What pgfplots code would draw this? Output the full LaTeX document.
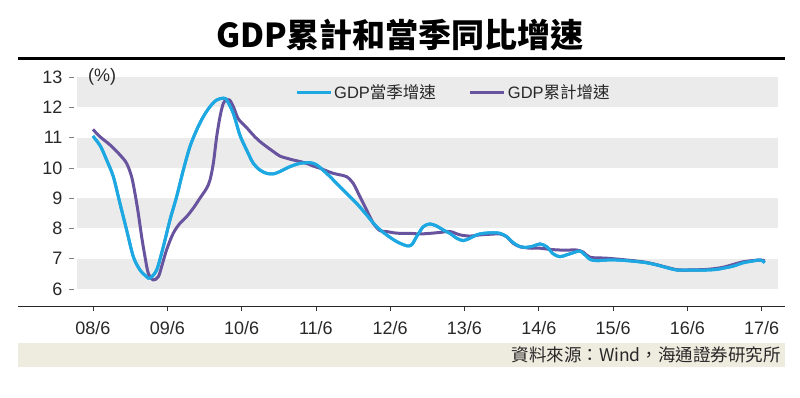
\documentclass[border=0pt]{standalone}
\usepackage{pgfplots}
\pgfplotsset{compat=1.18}
\usepackage{fontspec}
\setmainfont{Liberation Sans}
\newfontfamily\cjk{Noto Sans CJK TC}
\definecolor{qcyan}{RGB}{30,168,226}
\definecolor{qpurple}{RGB}{104,84,158}
\definecolor{band}{RGB}{235,235,235}
\definecolor{beige}{RGB}{238,235,223}
\definecolor{txt}{RGB}{40,40,40}

\pgfplotstableread{
t v
0.000 11.05
0.100 10.72
0.184 10.26
0.274 9.71
0.363 8.83
0.453 7.95
0.543 7.07
0.633 6.63
0.722 6.41
0.767 6.36
0.857 6.63
0.947 7.40
1.036 8.28
1.126 9.05
1.216 9.93
1.305 10.70
1.395 11.25
1.485 11.69
1.575 12.02
1.664 12.24
1.754 12.30
1.800 12.24
1.889 11.80
1.978 11.08
2.068 10.59
2.158 10.15
2.247 9.93
2.337 9.82
2.427 9.80
2.516 9.88
2.650 10.04
2.786 10.15
2.920 10.17
3.010 10.10
3.145 9.82
3.280 9.49
3.414 9.16
3.548 8.83
3.683 8.45
3.817 8.06
3.952 7.79
4.086 7.57
4.221 7.43
4.289 7.46
4.356 7.73
4.446 8.06
4.536 8.15
4.626 8.08
4.715 7.95
4.805 7.84
4.895 7.68
4.984 7.60
5.074 7.68
5.164 7.79
5.254 7.84
5.388 7.86
5.478 7.84
5.568 7.73
5.657 7.53
5.747 7.40
5.837 7.38
5.927 7.42
6.016 7.49
6.106 7.40
6.196 7.16
6.285 7.07
6.375 7.13
6.465 7.20
6.555 7.26
6.622 7.13
6.690 6.98
6.780 6.94
6.914 6.96
7.050 6.96
7.183 6.94
7.317 6.91
7.450 6.87
7.587 6.80
7.720 6.71
7.856 6.63
7.990 6.63
8.125 6.63
8.260 6.63
8.394 6.65
8.484 6.69
8.619 6.76
8.753 6.87
8.888 6.93
8.990 6.96
9.040 6.87
}\quarterly

\pgfplotstableread{
t v
0.000 11.27
0.094 11.03
0.229 10.76
0.363 10.43
0.453 10.15
0.520 9.71
0.565 9.16
0.610 8.50
0.655 7.73
0.700 7.07
0.745 6.52
0.812 6.30
0.880 6.41
0.924 6.74
0.990 7.29
1.080 7.84
1.170 8.17
1.260 8.39
1.350 8.67
1.440 9.00
1.530 9.33
1.575 9.60
1.620 10.15
1.665 11.03
1.710 11.69
1.754 12.13
1.800 12.26
1.840 12.24
1.890 12.02
1.956 11.62
2.068 11.33
2.158 11.08
2.247 10.87
2.337 10.70
2.427 10.54
2.516 10.39
2.606 10.32
2.696 10.26
2.786 10.21
2.875 10.15
2.965 10.06
3.055 9.99
3.145 9.90
3.234 9.82
3.324 9.77
3.414 9.71
3.503 9.49
3.593 9.05
3.683 8.61
3.773 8.17
3.862 7.93
3.952 7.90
4.042 7.86
4.131 7.84
4.267 7.84
4.400 7.82
4.536 7.84
4.670 7.87
4.805 7.90
4.940 7.79
5.074 7.75
5.210 7.79
5.343 7.81
5.478 7.82
5.568 7.73
5.657 7.51
5.747 7.40
5.882 7.35
6.016 7.35
6.150 7.31
6.285 7.29
6.420 7.29
6.510 7.29
6.600 7.22
6.690 7.05
6.914 7.02
7.183 6.96
7.450 6.88
7.720 6.72
7.856 6.64
8.000 6.63
8.260 6.65
8.480 6.72
8.750 6.90
8.980 6.96
9.040 6.93
}\cumulative

\begin{document}
\begin{tikzpicture}[x=1pt,y=1pt]
\begin{axis}[
  name=ax,
  width=701pt, height=229pt, scale only axis,
  xmin=-0.215, xmax=9.22, ymin=5.442, ymax=13,
  clip=false,
  axis line style={draw=none},
  xtick={0,1,2,3,4,5,6,7,8,9},
  xticklabels={08/6,09/6,10/6,11/6,12/6,13/6,14/6,15/6,16/6,17/6},
  ytick={6,7,8,9,10,11,12,13},
  tick align=outside, xtick pos=bottom, ytick pos=left,
  major tick length=5pt,
  x tick style={draw=black!80, line width=0.7pt},
  y tick style={draw=gray, line width=0.7pt, xshift=-3pt},
  tick label style={font=\fontsize{18}{20}\selectfont, text=txt},
  xticklabel style={yshift=-7pt},
  yticklabel style={xshift=-6pt},
  /pgf/number format/assume math mode=true,
  legend style={draw=none, fill=none, at={(0.311,0.934)}, anchor=west,
    inner xsep=0pt, inner ysep=0pt, legend columns=2,
    font=\fontsize{16.5}{18}\selectfont, text=txt,
    /tikz/every even column/.append style={column sep=31pt}},
  legend image code/.code={\draw[#1, line width=3pt] (0pt,0pt) -- (34pt,0pt);},
  legend cell align=left,
]
\fill[band] (axis cs:-0.215,12) rectangle (axis cs:9.22,13);
\fill[band] (axis cs:-0.215,10) rectangle (axis cs:9.22,11);
\fill[band] (axis cs:-0.215,8) rectangle (axis cs:9.22,9);
\fill[band] (axis cs:-0.215,6) rectangle (axis cs:9.22,7);
\draw[black!85, line width=0.8pt] (rel axis cs:-0.0842,0) -- (rel axis cs:1.01,0);
\node[anchor=west, font=\fontsize{18}{20}\selectfont, text=txt, inner sep=0pt] at (rel axis cs:0.0157,1) {(\%)};
\addplot[qcyan, line width=3pt, smooth, line join=round] table[x=t,y=v] {\quarterly};
\addlegendentry{GDP{\cjk 當季增速}}
\addplot[qpurple, line width=3pt, smooth, line join=round] table[x=t,y=v] {\cumulative};
\addlegendentry{GDP{\cjk 累計增速}}
\addplot[qcyan, line width=3pt, smooth, line join=round, forget plot] table[x=t,y=v] {\quarterly};
\end{axis}
\begin{scope}[shift={(ax.south west)}, shift={(-77,-91)}]
\path[use as bounding box] (0,0) rectangle (800,397);
\node[font=\cjk\bfseries\fontsize{33}{36}\selectfont, anchor=center, inner sep=0pt] at (400,362) {GDP累計和當季同比增速};
\draw[line width=3pt] (18,339) -- (785,339);
\fill[beige] (18,30) rectangle (785,54);
\node[anchor=east, font=\cjk\fontsize{17.5}{20}\selectfont, text=txt, inner sep=0pt] at (781,42) {資料來源：Wind，海通證券研究所};
\end{scope}
\end{tikzpicture}
\end{document}
